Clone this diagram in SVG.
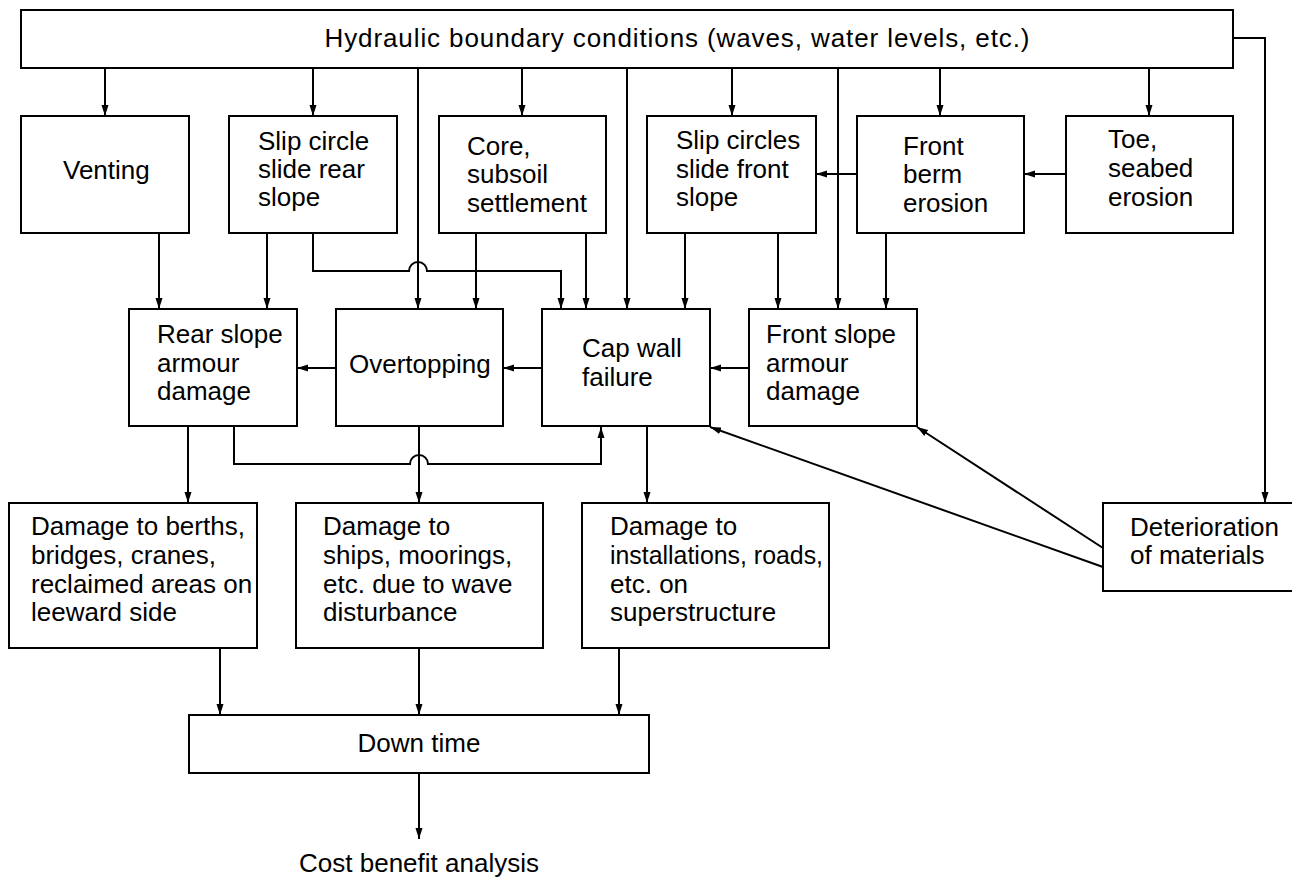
<svg xmlns="http://www.w3.org/2000/svg" width="1292" height="879" viewBox="0 0 1292 879">
<style>
.box{fill:#fff;stroke:#000;stroke-width:2}
.ln{fill:none;stroke:#000;stroke-width:2}
.t{font-family:"Liberation Sans",Arial,sans-serif;font-size:26px;fill:#000}
.c{text-anchor:middle}
</style>
<defs>
<marker id="ah" markerUnits="userSpaceOnUse" markerWidth="12" markerHeight="8" refX="11" refY="4" orient="auto">
<path d="M0,0.5 L11,4 L0,7.5 z" fill="#000"/>
</marker>
</defs>
<rect width="1292" height="879" fill="#fff"/>
<g id="connectors">
<path class="ln" d="M1233,38 H1265 V503" marker-end="url(#ah)"/>
<path class="ln" d="M105,68 V116" marker-end="url(#ah)"/>
<path class="ln" d="M313,68 V116" marker-end="url(#ah)"/>
<path class="ln" d="M418,68 V309" marker-end="url(#ah)"/>
<path class="ln" d="M522,68 V116" marker-end="url(#ah)"/>
<path class="ln" d="M627,68 V309" marker-end="url(#ah)"/>
<path class="ln" d="M732,68 V116" marker-end="url(#ah)"/>
<path class="ln" d="M838,68 V309" marker-end="url(#ah)"/>
<path class="ln" d="M940,68 V116" marker-end="url(#ah)"/>
<path class="ln" d="M1149,68 V116" marker-end="url(#ah)"/>
<path class="ln" d="M1066,174 H1024" marker-end="url(#ah)"/>
<path class="ln" d="M857,174 H816" marker-end="url(#ah)"/>
<path class="ln" d="M159,233 V309" marker-end="url(#ah)"/>
<path class="ln" d="M267,233 V309" marker-end="url(#ah)"/>
<path class="ln" d="M313,233 V271 H409 A9,9 0 0 1 427,271 H561 V309" marker-end="url(#ah)"/>
<path class="ln" d="M476,233 V309" marker-end="url(#ah)"/>
<path class="ln" d="M586,233 V309" marker-end="url(#ah)"/>
<path class="ln" d="M685,233 V309" marker-end="url(#ah)"/>
<path class="ln" d="M778,233 V309" marker-end="url(#ah)"/>
<path class="ln" d="M886,233 V309" marker-end="url(#ah)"/>
<path class="ln" d="M336,368 H297" marker-end="url(#ah)"/>
<path class="ln" d="M542,368 H503" marker-end="url(#ah)"/>
<path class="ln" d="M749,368 H710" marker-end="url(#ah)"/>
<path class="ln" d="M1103,548 L917,427" marker-end="url(#ah)"/>
<path class="ln" d="M1103,567 L710,427" marker-end="url(#ah)"/>
<path class="ln" d="M188,426 V503" marker-end="url(#ah)"/>
<path class="ln" d="M419,426 V503" marker-end="url(#ah)"/>
<path class="ln" d="M234,426 V464 H410 A9,9 0 0 1 428,464 H601 V427" marker-end="url(#ah)"/>
<path class="ln" d="M647,426 V503" marker-end="url(#ah)"/>
<path class="ln" d="M220,648 V715" marker-end="url(#ah)"/>
<path class="ln" d="M419,648 V715" marker-end="url(#ah)"/>
<path class="ln" d="M619,648 V715" marker-end="url(#ah)"/>
<path class="ln" d="M419,773 V839" marker-end="url(#ah)"/>
</g>
<g id="hydraulic"><rect class="box" x="21" y="10" width="1212" height="58"/><text class="t c" x="677" y="47" textLength="705" lengthAdjust="spacing">Hydraulic boundary conditions (waves, water levels, etc.)</text></g>
<g id="venting"><rect class="box" x="21" y="116" width="168" height="117"/><text class="t" x="63" y="179">Venting</text></g>
<g id="slip-rear"><rect class="box" x="229" y="116" width="168" height="117"/><text class="t"><tspan x="258" y="150">Slip circle</tspan><tspan x="258" y="178">slide rear</tspan><tspan x="258" y="206">slope</tspan></text></g>
<g id="core"><rect class="box" x="439" y="116" width="167" height="117"/><text class="t"><tspan x="467" y="155">Core,</tspan><tspan x="467" y="183">subsoil</tspan><tspan x="467" y="212">settlement</tspan></text></g>
<g id="slip-front"><rect class="box" x="647" y="116" width="169" height="117"/><text class="t"><tspan x="676" y="149">Slip circles</tspan><tspan x="676" y="178">slide front</tspan><tspan x="676" y="206">slope</tspan></text></g>
<g id="front-berm"><rect class="box" x="857" y="116" width="167" height="117"/><text class="t"><tspan x="903" y="155">Front</tspan><tspan x="903" y="183">berm</tspan><tspan x="903" y="212">erosion</tspan></text></g>
<g id="toe"><rect class="box" x="1066" y="116" width="167" height="117"/><text class="t"><tspan x="1108" y="148">Toe,</tspan><tspan x="1108" y="177">seabed</tspan><tspan x="1108" y="206">erosion</tspan></text></g>
<g id="rear-slope"><rect class="box" x="129" y="309" width="168" height="117"/><text class="t"><tspan x="157" y="343">Rear slope</tspan><tspan x="157" y="372">armour</tspan><tspan x="157" y="400">damage</tspan></text></g>
<g id="overtopping"><rect class="box" x="336" y="309" width="167" height="117"/><text class="t" x="349" y="373">Overtopping</text></g>
<g id="cap-wall"><rect class="box" x="542" y="309" width="168" height="117"/><text class="t"><tspan x="582" y="357">Cap wall</tspan><tspan x="582" y="386">failure</tspan></text></g>
<g id="front-slope"><rect class="box" x="749" y="309" width="168" height="117"/><text class="t"><tspan x="766" y="343">Front slope</tspan><tspan x="766" y="372">armour</tspan><tspan x="766" y="400">damage</tspan></text></g>
<g id="damage-berths"><rect class="box" x="9" y="503" width="248" height="145"/><text class="t"><tspan x="31" y="535">Damage to berths,</tspan><tspan x="31" y="564">bridges, cranes,</tspan><tspan x="31" y="593">reclaimed areas on</tspan><tspan x="31" y="621">leeward side</tspan></text></g>
<g id="damage-ships"><rect class="box" x="296" y="503" width="247" height="145"/><text class="t"><tspan x="323" y="535">Damage to</tspan><tspan x="323" y="564">ships, moorings,</tspan><tspan x="323" y="593">etc. due to wave</tspan><tspan x="323" y="621">disturbance</tspan></text></g>
<g id="damage-installations"><rect class="box" x="582" y="503" width="247" height="145"/><text class="t"><tspan x="610" y="535">Damage to</tspan><tspan x="610" y="564" textLength="213" lengthAdjust="spacingAndGlyphs">installations, roads,</tspan><tspan x="610" y="593">etc. on</tspan><tspan x="610" y="621">superstructure</tspan></text></g>
<g id="deterioration"><rect class="box" x="1103" y="503" width="200" height="88"/><text class="t"><tspan x="1130" y="536">Deterioration</tspan><tspan x="1130" y="564">of materials</tspan></text></g>
<g id="down-time"><rect class="box" x="189" y="715" width="460" height="58"/><text class="t c" x="419" y="752">Down time</text></g>
<g id="cost-benefit"><text class="t c" x="419" y="872">Cost benefit analysis</text></g>
</svg>
